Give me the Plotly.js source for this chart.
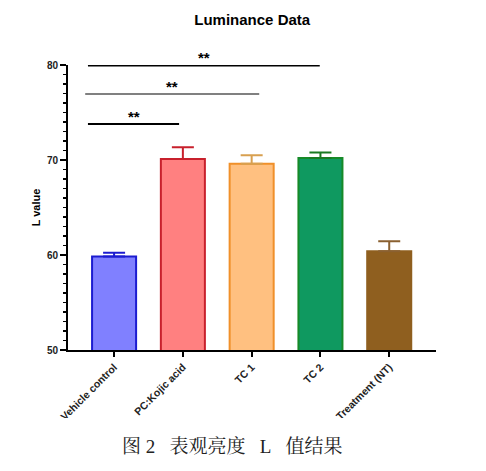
<!DOCTYPE html>
<html>
<head>
<meta charset="utf-8">
<script src="https://cdn.plot.ly/plotly-3.0.1.min.js"></script>
<style>
html,body{margin:0;padding:0;background:#fff;}
#chart{width:486px;height:471px;}
</style>
</head>
<body>
<div id="chart"></div>
<script>
const categories = ["Vehicle control", "PC:Kojic acid", "TC 1", "TC 2", "No Treatment (NT)"];
const means = [59.85, 70.1, 69.6, 70.2, 60.4];
const sdUpper = [0.4, 1.25, 0.9, 0.6, 1.05];
const fillColors = ["#8080ff", "#ff8080", "#ffc080", "#0f9960", "#8f5f1f"];
const lineColors = ["#1c1cd0", "#c8202c", "#f0902a", "#178a28", "#8f5f1f"];
const errColors = ["#1c1cd0", "#c8202c", "#d8a050", "#1a7a22", "#8a6030"];

// significance brackets
const sigStart = [-0.38, -0.42, -0.38];
const sigEnd = [0.945, 2.11, 2.99];
const sigLevel = [73.8, 76.95, 79.95];
const sigColor = ["#000000", "#808080", "#000000"];
const sigLabel = ["**", "**", "**"];

const traces = categories.map((c, i) => ({
  type: "bar",
  x: [c],
  y: [means[i]],
  width: 0.64,
  marker: {color: fillColors[i], line: {color: lineColors[i], width: 2}},
  error_y: {type: "data", symmetric: false, array: [sdUpper[i]], arrayminus: [0],
            color: errColors[i], thickness: 2, width: 11},
  showlegend: false,
  hoverinfo: "skip"
}));

const shapes = sigStart.map((s, i) => ({
  type: "line", xref: "x", yref: "y",
  x0: s, x1: sigEnd[i], y0: sigLevel[i], y1: sigLevel[i],
  line: {color: sigColor[i], width: 2}
}));
// white mask reproducing the cropped bottom of the original figure
shapes.push({type: "rect", xref: "paper", yref: "paper", x0: -0.3, x1: 1.2, y0: -0.292, y1: -0.239,
  fillcolor: "#ffffff", line: {width: 0}, layer: "above"});

const annotations = sigLabel.map((t, i) => ({
  text: t, xref: "x", yref: "y",
  x: (sigStart[i] + sigEnd[i]) / 2, y: sigLevel[i],
  showarrow: false, yanchor: "bottom", yshift: -3,
  font: {family: "Liberation Sans, Arial", size: 15, color: "#000", weight: "bold"}
}));
annotations.push({
  text: "图\u00a02\u00a0\u00a0\u00a0表观亮度\u00a0\u00a0\u00a0L\u00a0\u00a0\u00a0值结果",
  xref: "paper", yref: "paper", x: 0.448, y: -0.337, showarrow: false,
  xanchor: "center", yanchor: "middle",
  font: {family: "Liberation Serif, Noto Serif CJK SC, Noto Sans CJK SC", size: 19, color: "#222"}
});

const layout = {
  width: 486, height: 471,
  margin: {l: 68, r: 50, t: 65, b: 121},
  paper_bgcolor: "#fff", plot_bgcolor: "#fff",
  barmode: "overlay",
  title: {text: "Luminance Data", x: 0.519, xanchor: "center", y: 0.958, yanchor: "middle",
          font: {family: "Liberation Sans, Arial", size: 15, color: "#000", weight: "bold"}},
  xaxis: {
    type: "category", range: [-0.67, 4.68],
    showline: true, linewidth: 2, linecolor: "#000",
    ticks: "outside", ticklen: 5, tickwidth: 2, tickcolor: "#000",
    tickangle: -45, showgrid: false, zeroline: false,
    tickfont: {family: "Liberation Sans, Arial", size: 10.5, color: "#222", weight: "bold"}
  },
  yaxis: {
    range: [50, 80], dtick: 10, tick0: 50,
    showline: true, linewidth: 2, linecolor: "#000",
    ticks: "outside", ticklen: 6, tickwidth: 2, tickcolor: "#000",
    minor: {dtick: 1, ticks: "outside", ticklen: 3, tickwidth: 1.5, tickcolor: "#000", showgrid: false},
    showgrid: false, zeroline: false,
    tickfont: {family: "Liberation Sans, Arial", size: 10, color: "#222", weight: "bold"},
    title: {text: "L value", standoff: 4,
            font: {family: "Liberation Sans, Arial", size: 11, color: "#000", weight: "bold"}}
  },
  shapes: shapes,
  annotations: annotations
};

Plotly.newPlot("chart", traces, layout, {displayModeBar: false, staticPlot: true});
</script>
</body>
</html>
